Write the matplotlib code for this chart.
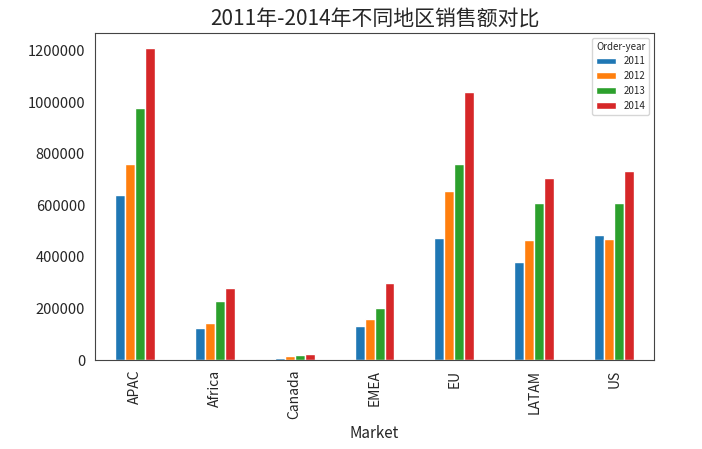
import matplotlib
matplotlib.use("Agg")
import matplotlib.pyplot as plt
import seaborn as sns
import pandas as pd

markets = ["APAC", "Africa", "Canada", "EMEA", "EU", "LATAM", "US"]
years = ["2011", "2012", "2013", "2014"]
sales_2011 = [640000, 126000, 10000, 133000, 475000, 382000, 483000]
sales_2012 = [760000, 145000, 17000, 161000, 655000, 464000, 468000]
sales_2013 = [975000, 230000, 18000, 203000, 760000, 608000, 608000]
sales_2014 = [1208000, 281000, 22000, 300000, 1040000, 705000, 733000]

sns.set_style("white")
plt.rcParams['font.family'] = ['Noto Sans CJK SC', 'DejaVu Sans']
plt.rcParams['axes.unicode_minus'] = False

df = pd.DataFrame({"2011": sales_2011, "2012": sales_2012,
                   "2013": sales_2013, "2014": sales_2014}, index=markets)
df.index.name = "Market"
df.columns.name = "Order-year"

fig = plt.figure(figsize=(7.02, 4.49), dpi=100)
ax = fig.add_axes([0.135, 0.198, 0.797, 0.729])
df.plot.bar(ax=ax)

ax.set_title("2011年-2014年不同地区销售额对比", fontsize=15)
ax.set_xlabel("Market", fontsize=11)
ax.tick_params(axis='x', labelsize=10)
ax.tick_params(axis='y', labelsize=10.5)
ax.ticklabel_format(axis='y', style='plain')
for sp in ax.spines.values():
    sp.set_color('#444444')

leg = ax.legend(title="Order-year", fontsize=7, loc='upper right')
leg.get_title().set_fontsize(7)

fig.savefig("out.png", dpi=100)
